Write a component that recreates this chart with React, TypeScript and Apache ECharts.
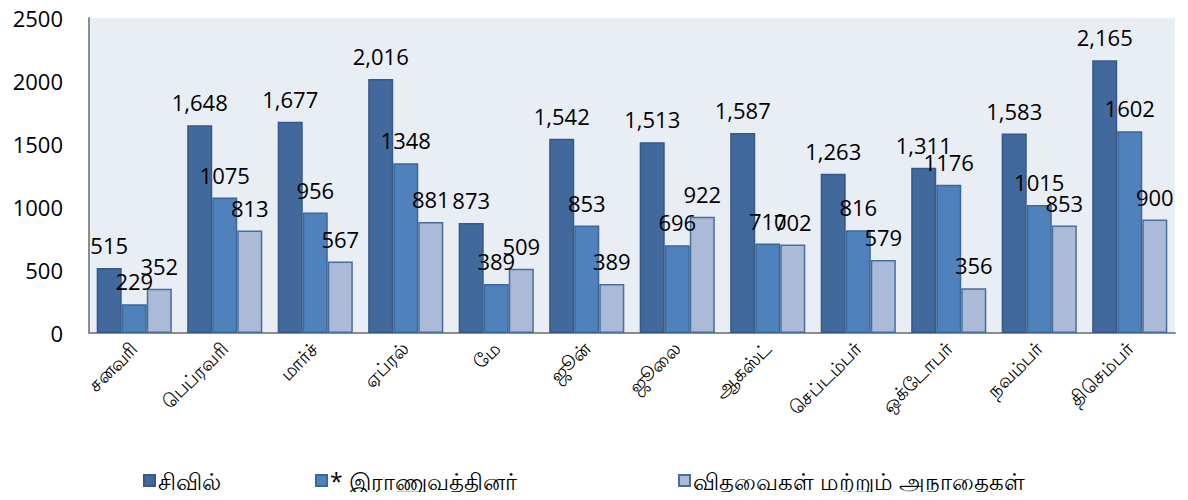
import React, { useEffect, useRef } from "react";
import * as echarts from "echarts";

const months = ["சனவரி", "பெப்ரவரி", "மார்ச்", "ஏப்ரல்", "மே", "ஜூன்", "ஜூலை", "ஆகஸ்ட்", "செப்டம்பர்", "ஒக்டோபர்", "நவம்பர்", "திசெம்பர்"];
const seriesNames = ["சிவில்", "* இராணுவத்தினர்", "விதவைகள் மற்றும் அநாதைகள்"];
const civil = [515, 1648, 1677, 2016, 873, 1542, 1513, 1587, 1263, 1311, 1583, 2165];
const military = [229, 1075, 956, 1348, 389, 853, 696, 710, 816, 1176, 1015, 1602];
const widows = [352, 813, 567, 881, 509, 389, 922, 702, 579, 356, 853, 900];

const colors = ["#41699b", "#4f81bd", "#aabad7"];
const borders = ["#36598a", "#3c6797", "#4a6e9c"];
const FONT = "'Open Sans', 'Noto Sans', sans-serif";

export default function App() {
  const ref = useRef<HTMLDivElement>(null);
  useEffect(() => {
    const chart = echarts.init(ref.current!, null, { renderer: "svg" });
    const datas = [civil, military, widows];
    const legendLefts = [143, 315, 678];
    chart.setOption({
      animation: false,
      textStyle: { fontFamily: FONT },
      grid: { left: 89, right: 13, top: 18, bottom: 167, backgroundColor: "#e9edf4", show: true, borderWidth: 0 },
      legend: seriesNames.map((n, i) => ({
        data: [n],
        left: legendLefts[i],
        top: 469,
        padding: 0,
        itemWidth: 11,
        itemHeight: 11,
        itemGap: 4,
        icon: "rect",
        textStyle: { fontSize: 23, color: "#000", fontFamily: FONT, padding: [0, 0, 0, -2] },
      })),
      xAxis: {
        type: "category",
        data: months,
        axisLine: { lineStyle: { color: "#8c8c8c", width: 2 } },
        axisTick: { show: false },
        axisLabel: { rotate: 45, fontSize: 19, color: "#000", margin: 12, interval: 0 },
      },
      yAxis: {
        type: "value",
        min: 0,
        max: 2500,
        interval: 500,
        axisLine: { show: true, lineStyle: { color: "#8c8c8c", width: 2 } },
        axisTick: { show: false },
        splitLine: { show: false },
        axisLabel: { fontSize: 22, color: "#000", margin: 26, formatter: (v: number) => String(v) },
      },
      series: datas.map((d, i) => ({
        name: seriesNames[i],
        type: "bar",
        data: d,
        barGap: "0%",
        barCategoryGap: "17%",
        itemStyle: { color: colors[i], borderColor: borders[i], borderWidth: 1.5 },
        label: {
          show: true,
          position: "top",
          distance: 12,
          fontSize: 22,
          color: "#000",
          formatter: (p: any) => (i === 0 ? p.value.toLocaleString("en-US") : String(p.value)),
        },
      })),
    });
    return () => chart.dispose();
  }, []);
  return <div ref={ref} style={{ width: 1188, height: 500, margin: -8 }} />;
}
